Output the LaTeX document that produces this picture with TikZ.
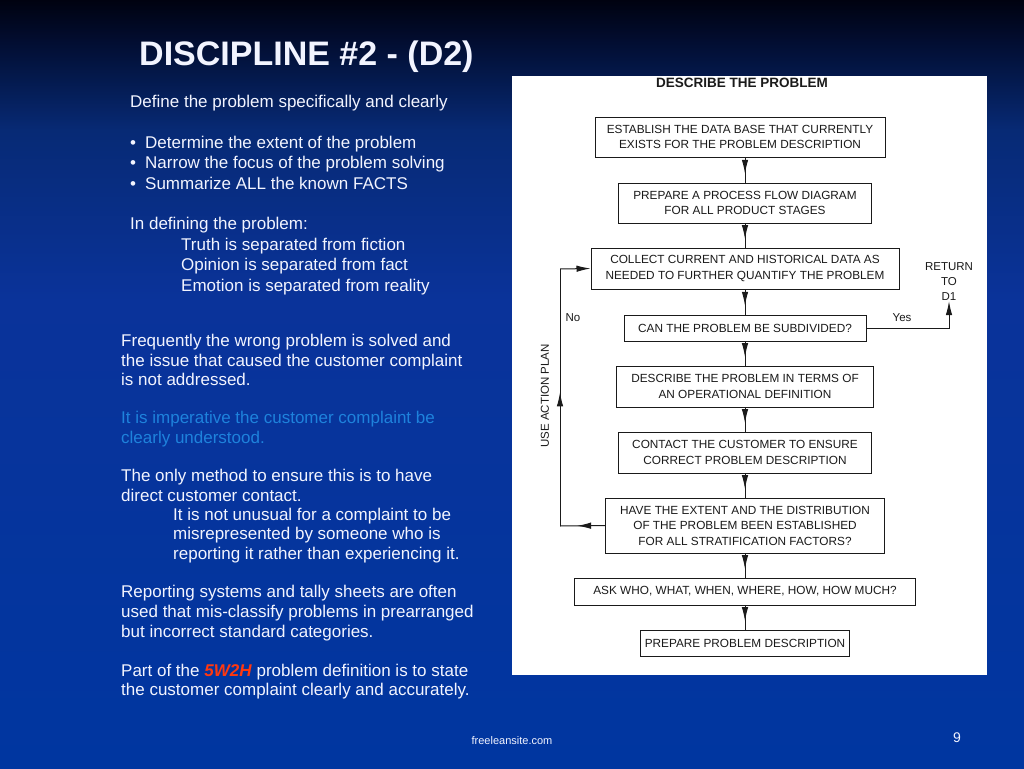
\documentclass[tikz,border=0pt]{standalone}
\usepackage{fontspec}
\setmainfont{Liberation Sans}
\usetikzlibrary{arrows.meta,decorations.markings}
\definecolor{bgA}{HTML}{000210}
\definecolor{bgB}{HTML}{020D30}
\definecolor{bgC}{HTML}{072A75}
\definecolor{bgD}{HTML}{0A339A}
\definecolor{bgE}{HTML}{0036A0}
\definecolor{txt}{HTML}{F2F4FF}
\definecolor{ltblue}{HTML}{1E82DC}
\definecolor{hot}{HTML}{FF3810}
\definecolor{ink}{HTML}{1A1A1A}
\begin{document}
\begin{tikzpicture}[x=1pt,y=-1pt,
  body/.style={anchor=base west,inner sep=0,text=txt,font=\fontsize{17}{20}\selectfont},
  fbox/.style={draw=ink,line width=1pt,inner sep=0,align=center,text=ink,
    font=\fontsize{11.8}{15.5}\selectfont},
  flab/.style={inner sep=0,text=ink,align=center,font=\fontsize{11.5}{15}\selectfont},
  conn/.style={draw=ink,line width=1pt},
  midarrow/.style={postaction={decorate},decoration={markings,
    mark=at position #1 with {\arrow{Latex[length=14pt,width=6.5pt]}}}},
  endarrow/.style={-{Latex[length=14pt,width=6.5pt]}}
]
\useasboundingbox (0,0) rectangle (1024,768);
% background
\shade[top color=bgA,bottom color=bgB] (0,0) rectangle (1024,40.5);
\shade[top color=bgB,bottom color=bgC] (0,40) rectangle (1024,130.5);
\shade[top color=bgC,bottom color=bgD] (0,130) rectangle (1024,300.5);
\shade[top color=bgD,bottom color=bgE] (0,300) rectangle (1024,768);
% white panel
\fill[white] (512,76) rectangle (987,675);

% title
\node[anchor=base west,inner sep=0,text=txt,font=\fontsize{34}{40}\bfseries\selectfont] (title) at (139,65) {DISCIPLINE \#2 - (D2)};

% left text block 1
\node[body] (l1) at (130,107) {Define the problem specifically and clearly};
\node[body] (bu1) at (130,148) {•};
\node[body] (l2) at (145,148) {Determine the extent of the problem};
\node[body] (bu2) at (130,168) {•};
\node[body] (l3) at (145,168) {Narrow the focus of the problem solving};
\node[body] (bu3) at (130,189) {•};
\node[body] (l4) at (145,189) {Summarize ALL the known FACTS};
\node[body] (l5) at (130,229) {In defining the problem:};
\node[body] (l6) at (181,250) {Truth is separated from fiction};
\node[body] (l7) at (181,270) {Opinion is separated from fact};
\node[body] (l8) at (181,291) {Emotion is separated from reality};

% left text block 2
\node[body] (m1) at (121,346) {Frequently the wrong problem is solved and};
\node[body] (m2) at (121,366) {the issue that caused the customer complaint};
\node[body] (m3) at (121,385) {is not addressed.};
\node[body,text=ltblue] (m4) at (121,423) {It is imperative the customer complaint be};
\node[body,text=ltblue] (m5) at (121,443) {clearly understood.};
\node[body] (m6) at (121,481) {The only method to ensure this is to have};
\node[body] (m7) at (121,501) {direct customer contact.};
\node[body] (m8) at (173,520) {It is not unusual for a complaint to be};
\node[body] (m9) at (173,539) {misrepresented by someone who is};
\node[body] (m10) at (173,559) {reporting it rather than experiencing it.};
\node[body] (m11) at (121,597) {Reporting systems and tally sheets are often};
\node[body] (m12) at (121,617) {used that mis-classify problems in prearranged};
\node[body] (m13) at (121,637) {but incorrect standard categories.};
\node[body] (m14) at (121,676) {Part of the \textcolor{hot}{\textbf{\textit{5W2H}}} problem definition is to state};
\node[body] (m15) at (121,695) {the customer complaint clearly and accurately.};

% footer
\node[inner sep=0,text=txt,font=\fontsize{11}{13}\selectfont] (foot) at (512,741) {freeleansite.com};
\node[inner sep=0,text=txt,font=\fontsize{14}{16}\selectfont] (pnum) at (957,738) {9};

% flowchart
\node[inner sep=0,text=ink,font=\fontsize{13.5}{16}\bfseries\selectfont] (head) at (742,83) {DESCRIBE THE PROBLEM};
\node[fbox,minimum width=290,minimum height=40] (b1) at (740,137) {ESTABLISH THE DATA BASE THAT CURRENTLY\\EXISTS FOR THE PROBLEM DESCRIPTION};
\node[fbox,minimum width=253,minimum height=40] (b2) at (745,203) {PREPARE A PROCESS FLOW DIAGRAM\\FOR ALL PRODUCT STAGES};
\node[fbox,minimum width=308,minimum height=41] (b3) at (745,268.5) {COLLECT CURRENT AND HISTORICAL DATA AS\\NEEDED TO FURTHER QUANTIFY THE PROBLEM};
\node[fbox,minimum width=242,minimum height=26] (b4) at (745,328) {CAN THE PROBLEM BE SUBDIVIDED?};
\node[fbox,minimum width=257,minimum height=41] (b5) at (745,386.5) {DESCRIBE THE PROBLEM IN TERMS OF\\AN OPERATIONAL DEFINITION};
\node[fbox,minimum width=253,minimum height=41] (b6) at (745,452.5) {CONTACT THE CUSTOMER TO ENSURE\\CORRECT PROBLEM DESCRIPTION};
\node[fbox,minimum width=279,minimum height=55] (b7) at (745,525.5) {HAVE THE EXTENT AND THE DISTRIBUTION\\OF THE PROBLEM BEEN ESTABLISHED\\FOR ALL STRATIFICATION FACTORS?};
\node[fbox,minimum width=341,minimum height=27] (b8) at (745,591.5) {ASK WHO, WHAT, WHEN, WHERE, HOW, HOW MUCH?};
\node[fbox,minimum width=209,minimum height=26] (b9) at (745,643) {PREPARE PROBLEM DESCRIPTION};

\node[flab] (rt) at (949,282) {RETURN\\TO\\D1};
\node[flab] (yes) at (902,318) {Yes};
\node[flab] (no) at (573,318) {No};
\node[flab,rotate=90] (uap) at (545,396) {USE ACTION PLAN};

% down connectors
\draw[conn,midarrow=0.65] (b1.south -| b2) -- (b2.north);
\draw[conn,midarrow=0.65] (b2.south) -- (b3.north);
\draw[conn,midarrow=0.65] (b3.south) -- (b4.north);
\draw[conn,midarrow=0.65] (b4.south) -- (b5.north);
\draw[conn,midarrow=0.65] (b5.south) -- (b6.north);
\draw[conn,midarrow=0.65] (b6.south) -- (b7.north);
\draw[conn,midarrow=0.65] (b7.south) -- (b8.north);
\draw[conn,midarrow=0.65] (b8.south) -- (b9.north);

% loop back (No)
\coordinate (lb) at (560,526);
\coordinate (lt) at (560,269);
\draw[conn,midarrow=0.62] (b7.west) -- (lb);
\draw[conn,midarrow=0.52] (lb) -- (lt);
\draw[conn,endarrow] (lt) -- (b3.west);

% Yes -> return to D1
\draw[conn,endarrow] (b4.east) -| (rt.south);
\end{tikzpicture}
\end{document}
